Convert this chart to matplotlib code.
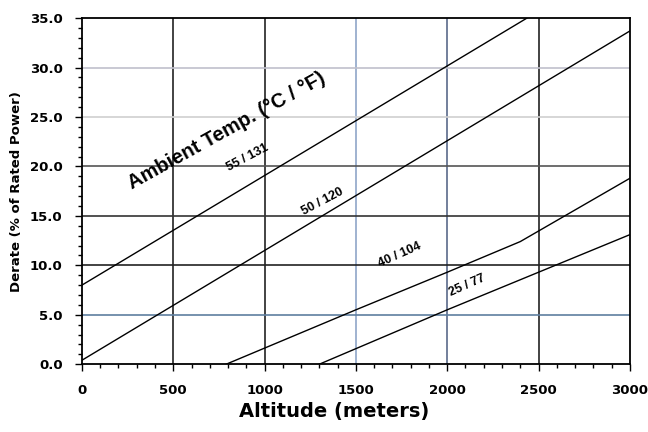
import matplotlib
matplotlib.use("Agg")
import matplotlib.pyplot as plt
from matplotlib.ticker import MultipleLocator, FormatStrFormatter

plt.rcParams['font.family'] = ['DejaVu Sans']

# Data (altitude in meters, derate in % of rated power)
alt_55 = [0, 2436]
der_55 = [8.0, 35.0]
alt_50 = [0, 3000]
der_50 = [0.4, 33.7]
alt_40 = [790, 1500, 2000, 2400, 3000]
der_40 = [0.0, 5.5, 9.3, 12.4, 18.8]
alt_25 = [1300, 2000, 2500, 3000]
der_25 = [0.0, 5.5, 9.3, 13.1]

labels = ["55 / 131", "50 / 120", "40 / 104", "25 / 77"]
label_pos = [(910, 20.9, 28), (1320, 16.4, 28), (1740, 11.0, 24), (2110, 8.0, 24)]

x_ticks = [0, 500, 1000, 1500, 2000, 2500, 3000]
y_ticks = [0, 5, 10, 15, 20, 25, 30, 35]

fig = plt.figure(figsize=(6.48, 4.32), dpi=100)
ax = fig.add_axes([0.1265, 0.157, 0.8455, 0.801])

# grid lines (varying tones as in reference)
vcol = {500: '#222222', 1000: '#222222', 1500: '#8fa6c8', 2000: '#5a6a8a', 2500: '#222222'}
hcol = {5: '#5f7fa0', 10: '#222222', 15: '#333333', 20: '#555555', 25: '#d0d0d0', 30: '#c0c0cc'}
for xv, c in vcol.items():
    ax.axvline(xv, color=c, lw=1.2, zorder=1)
for yv, c in hcol.items():
    ax.axhline(yv, color=c, lw=1.2, zorder=1)

for a, d in [(alt_55, der_55), (alt_50, der_50), (alt_40, der_40), (alt_25, der_25)]:
    ax.plot(a, d, color='black', lw=1.0, zorder=3)

for lab, (x, y, r) in zip(labels, label_pos):
    ax.text(x, y, lab, rotation=r, ha='center', va='center', fontsize=9,
            fontweight='bold', rotation_mode='anchor', zorder=4,
            family='Liberation Sans')

ax.text(790, 23.6, "Ambient Temp. (°C / °F)", rotation=29, ha='center', va='center',
        fontsize=14.5, fontweight='bold', rotation_mode='anchor', zorder=4,
        family='Liberation Sans')

ax.set_xlim(0, 3000)
ax.set_ylim(0, 35)
ax.set_xticks(x_ticks)
ax.set_yticks(y_ticks)
ax.yaxis.set_major_formatter(FormatStrFormatter('%.1f'))
ax.xaxis.set_minor_locator(MultipleLocator(100))
ax.yaxis.set_minor_locator(MultipleLocator(1))
ax.tick_params(which='both', direction='out', labelsize=9.5)
ax.tick_params(which='major', length=5, width=1)
ax.tick_params(which='minor', length=3, width=1)
ax.tick_params(axis='x', which='major', pad=9)
ax.tick_params(axis='y', which='major', pad=9)
for lbl in ax.get_xticklabels() + ax.get_yticklabels():
    lbl.set_fontweight('bold')
for s in ax.spines.values():
    s.set_linewidth(1.3)

ax.set_xlabel("Altitude (meters)", fontsize=14, fontweight='bold', labelpad=5)
ax.xaxis.set_label_coords(0.46, -0.11)
ax.set_ylabel("Derate (% of Rated Power)", fontsize=9.5, fontweight='bold', labelpad=5)

fig.savefig("out.png", dpi=100)
